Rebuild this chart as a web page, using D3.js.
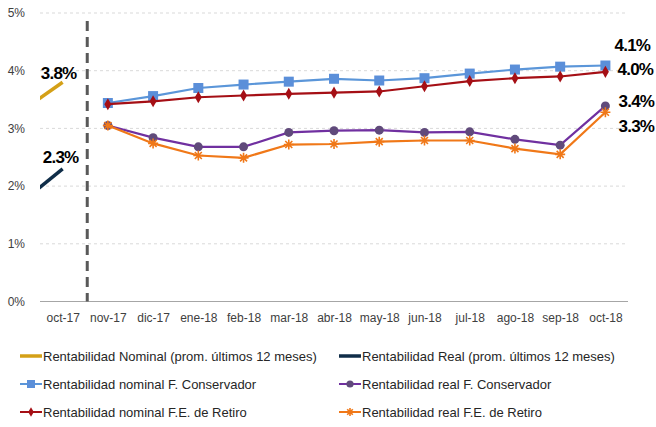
<!DOCTYPE html>
<meta charset="utf-8">
<style>
body { margin: 0; background: #fff; }
text { font-family: "Liberation Sans Narrow", "Arial Narrow", "Liberation Sans", Arial, sans-serif; }
.tick text { font-size: 12px; fill: #404040; }
.lbl { font-size: 17px; font-weight: bold; fill: #000; letter-spacing: -0.8px; }
.leg text { font-size: 13px; fill: #262626; }
</style>
<svg width="656" height="427"></svg>
<script src="https://d3js.org/d3.v7.min.js"></script>
<script>

var months = ["oct-17","nov-17","dic-17","ene-18","feb-18","mar-18","abr-18","may-18","jun-18","jul-18","ago-18","sep-18","oct-18"];
var fundMonths = months.slice(1);

// 12-month averages: only a short stub ending at oct-17 (previous month sits off the chart)
var avgMonths = ["sep-17","oct-17"];
var nominalAvg = [3.25, 3.8];
var realAvg = [1.66, 2.3];

var nominalConservador = [3.44,3.56,3.70,3.76,3.81,3.86,3.83,3.87,3.95,4.02,4.07,4.09];
var nominalRetiro      = [3.42,3.47,3.54,3.57,3.60,3.62,3.64,3.73,3.82,3.87,3.90,3.98];
var realConservador    = [3.05,2.84,2.68,2.68,2.93,2.96,2.97,2.93,2.94,2.81,2.71,3.39];
var realRetiro         = [3.05,2.74,2.53,2.49,2.72,2.73,2.77,2.79,2.79,2.65,2.55,3.28];

var yTicks = [0,1,2,3,4,5];

var svg = d3.select("svg"),
    plotLeft = 40, plotRight = 628, plotTop = 13, plotBottom = 301.5;

var x = d3.scalePoint()
    .domain(["sep-17"].concat(months))
    .range([plotLeft + 22.6 - 45.2, plotRight - 22.6]);

var y = d3.scaleLinear().domain([0, 5]).range([plotBottom, plotTop]);

// gridlines
svg.append("g")
  .selectAll("line")
  .data(yTicks.slice(1))
  .enter().append("line")
    .attr("x1", plotLeft).attr("x2", plotRight)
    .attr("y1", function(d) { return y(d); })
    .attr("y2", function(d) { return y(d); })
    .attr("stroke", "#d9d9d9")
    .attr("stroke-dasharray", "3,3");

// y axis labels
var yAxis = svg.append("g")
    .attr("transform", "translate(" + (plotLeft - 12) + ",0)")
    .call(d3.axisLeft(y).tickValues(yTicks).tickFormat(function(d) { return d + "%"; }).tickSize(0));
yAxis.select(".domain").remove();

// x axis
var xAxis = svg.append("g")
    .attr("transform", "translate(0," + plotBottom + ")")
    .call(d3.axisBottom(x).tickValues(months).tickSize(0).tickPadding(12));
xAxis.select(".domain").remove();
svg.append("line")
    .attr("x1", plotLeft).attr("x2", plotRight)
    .attr("y1", plotBottom).attr("y2", plotBottom)
    .attr("stroke", "#a6a6a6").attr("stroke-width", 1.2);

// dashed separator between oct-17 and nov-17
var sepX = (x("oct-17") + x("nov-17")) / 2 + 2;
svg.append("line")
    .attr("x1", sepX).attr("x2", sepX)
    .attr("y1", y(4.86)).attr("y2", plotBottom)
    .attr("stroke", "#595959").attr("stroke-width", 3)
    .attr("stroke-dasharray", "10,6");

svg.append("clipPath").attr("id", "clip")
  .append("rect").attr("x", plotLeft).attr("y", 0).attr("width", plotRight - plotLeft).attr("height", 427);

var line = d3.line()
    .x(function(d) { return x(d[0]); })
    .y(function(d) { return y(d[1]); });

function pairs(cats, vals) {
  return cats.map(function(c, i) { return [c, vals[i]]; });
}

// average stubs
[[nominalAvg, "#d4a017"], [realAvg, "#0f2d48"]].forEach(function(s) {
  svg.append("path")
      .attr("clip-path", "url(#clip)")
      .attr("d", line(pairs(avgMonths, s[0])))
      .attr("fill", "none")
      .attr("stroke", s[1])
      .attr("stroke-width", 3.5);
});

var series = [
  {vals: nominalConservador, color: "#5b96d9", mark: "#5b8fd9", shape: "square"},
  {vals: nominalRetiro, color: "#a50f15", mark: "#a50f15", shape: "diamond"},
  {vals: realConservador, color: "#7030a0", mark: "#604a7b", shape: "circle"},
  {vals: realRetiro, color: "#f07818", mark: "#f07818", shape: "star"}
];

function drawMarker(g, shape, color, cx, cy, s) {
  s = s || 1;
  if (shape == "square") {
    g.append("rect").attr("x", cx - 5 * s).attr("y", cy - 5 * s)
      .attr("width", 10 * s).attr("height", 10 * s).attr("fill", color);
  } else if (shape == "diamond") {
    g.append("path")
      .attr("d", d3.symbol().type(d3.symbolDiamond).size(42 * s * s)())
      .attr("transform", "translate(" + cx + "," + cy + ")")
      .attr("fill", color);
  } else if (shape == "circle") {
    g.append("circle").attr("cx", cx).attr("cy", cy).attr("r", 4.5 * s).attr("fill", color);
  } else {
    var r = 5 * s;
    g.append("path")
      .attr("d", "M" + (-r) + ",0H" + r + "M" + (-r * 0.7) + "," + (-r * 0.7) + "L" + (r * 0.7) + "," + (r * 0.7) +
                 "M" + (-r * 0.7) + "," + (r * 0.7) + "L" + (r * 0.7) + "," + (-r * 0.7) + "M0," + (-r) + "V" + r)
      .attr("transform", "translate(" + cx + "," + cy + ")")
      .attr("stroke", color).attr("stroke-width", 1.6).attr("fill", "none");
  }
}

series.forEach(function(s) {
  var data = pairs(fundMonths, s.vals);
  svg.append("path")
      .attr("d", line(data))
      .attr("fill", "none")
      .attr("stroke", s.color)
      .attr("stroke-width", 2.2);
  var g = svg.append("g");
  data.forEach(function(d) {
    drawMarker(g, s.shape, s.mark, x(d[0]), y(d[1]));
  });
});

// value labels
var labels = [
  {text: "3.8%", cx: x("oct-17") - 4, v: nominalAvg[1], dy: -9},
  {text: "2.3%", cx: x("oct-17") - 2, v: realAvg[1], dy: -12},
  {text: "4.1%", cx: x("oct-18") + 27, v: nominalConservador[11], dy: -20},
  {text: "4.0%", cx: x("oct-18") + 30, v: nominalRetiro[11], dy: -3},
  {text: "3.4%", cx: x("oct-18") + 31, v: realConservador[11], dy: -5},
  {text: "3.3%", cx: x("oct-18") + 31, v: realRetiro[11], dy: 14}
];
svg.selectAll(".lbl")
  .data(labels)
  .enter().append("text")
    .attr("class", "lbl")
    .attr("text-anchor", "middle")
    .attr("x", function(d) { return d.cx; })
    .attr("y", function(d) { return y(d.v) + d.dy; })
    .attr("dy", "0.35em")
    .text(function(d) { return d.text; });

// legend
var legendItems = [
  {name: "Rentabilidad Nominal (prom. últimos 12 meses)", color: "#d4a017", shape: null, w: 3.5},
  {name: "Rentabilidad Real (prom. últimos 12 meses)", color: "#0f2d48", shape: null, w: 3.5},
  {name: "Rentabilidad nominal F. Conservador", color: "#5b96d9", shape: "square", mark: "#5b8fd9", w: 2},
  {name: "Rentabilidad real F. Conservador", color: "#7030a0", shape: "circle", mark: "#604a7b", w: 2},
  {name: "Rentabilidad nominal F.E. de Retiro", color: "#a50f15", shape: "diamond", mark: "#a50f15", w: 2},
  {name: "Rentabilidad real F.E. de Retiro", color: "#f07818", shape: "star", mark: "#f07818", w: 2}
];
var leg = svg.append("g").attr("class", "leg");
legendItems.forEach(function(d, i) {
  var col = i % 2, row = Math.floor(i / 2);
  var lx = col ? 339 : 20, ly = 356 + row * 28;
  var g = leg.append("g");
  g.append("line").attr("x1", lx).attr("x2", lx + 22).attr("y1", ly).attr("y2", ly)
    .attr("stroke", d.color).attr("stroke-width", d.w);
  if (d.shape) drawMarker(g, d.shape, d.mark, lx + 11, ly, 0.8);
  g.append("text").attr("x", lx + 23).attr("y", ly).attr("dy", "0.35em").text(d.name);
});

</script>
